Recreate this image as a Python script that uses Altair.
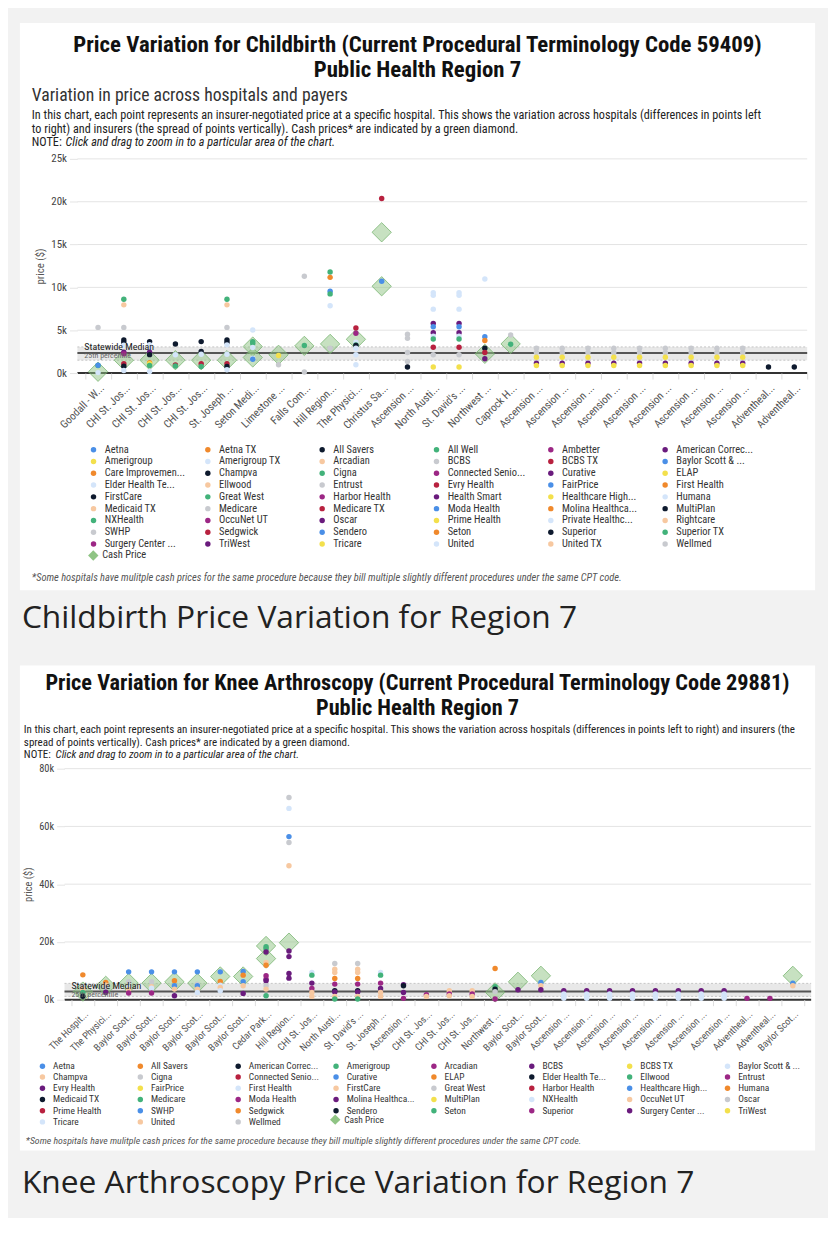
import json
import altair as alt
import pandas as pd

FONT = "'Roboto Condensed', 'Liberation Sans Narrow', 'DejaVu Sans Condensed', Roboto, sans-serif"
CAP_FONT = "'Open Sans', 'Noto Sans', sans-serif"

PALETTE = ["#4a8fe7", "#f0892c", "#0e1a2e", "#42b27a", "#9c2785", "#6a1b7d",
           "#f3e04c", "#d4e5fa", "#f7c8a0", "#c8cacf", "#b8213f"]
CASH_COLOR = "#8fc484"

# ---------------- Childbirth (CPT 59409) ----------------
CB_HOSPITALS = ["Goodall - W...", "CHI St. Jos...", "CHI St. Jos...", "CHI St. Jos...", "CHI St. Jos...",
                "St. Joseph ...", "Seton Medi...", "Limestone ...", "Falls Com...", "Hill Region...",
                "The Physici...", "Christus Sa...", "Ascension ...", "North Austi...", "St. David's ...",
                "Northwest ...", "Caprock H...", "Ascension ...", "Ascension ...", "Ascension ...",
                "Ascension ...", "Ascension ...", "Ascension ...", "Ascension ...", "Ascension ...",
                "Ascension ...", "Adventheal...", "Adventheal..."]
CB_PAYERS = ["Aetna", "Aetna TX", "All Savers", "All Well", "Ambetter", "American Correc...",
             "Amerigroup", "Amerigroup TX", "Arcadian", "BCBS", "BCBS TX", "Baylor Scott & ...",
             "Care Improvemen...", "Champva", "Cigna", "Connected Senio...", "Curative", "ELAP",
             "Elder Health Te...", "Ellwood", "Entrust", "Evry Health", "FairPrice", "First Health",
             "FirstCare", "Great West", "Harbor Health", "Health Smart", "Healthcare High...", "Humana",
             "Medicaid TX", "Medicare", "Medicare TX", "Moda Health", "Molina Healthca...", "MultiPlan",
             "NXHealth", "OccuNet UT", "Oscar", "Prime Health", "Private Healthc...", "Rightcare",
             "SWHP", "Sedgwick", "Sendero", "Seton", "Superior", "Superior TX",
             "Surgery Center ...", "TriWest", "Tricare", "United", "United TX", "Wellmed"]
CB_PT_HOSP = [0, 0, 0, 0,
              1, 1, 1, 1, 1, 1, 1, 1, 1, 1, 1,
              2, 2, 2, 2, 2, 2, 2, 2, 2,
              3, 3, 3, 3,
              4, 4, 4, 4, 4,
              5, 5, 5, 5, 5, 5, 5, 5, 5, 5,
              6, 6, 6, 6, 6, 6,
              7, 7,
              8, 8, 8,
              9, 9, 9, 9, 9, 9,
              10, 10, 10, 10, 10, 10, 10, 10,
              11, 11,
              12, 12, 12, 12, 12,
              13, 13, 13, 13, 13, 13, 13, 13, 13, 13, 13,
              14, 14, 14, 14, 14, 14, 14, 14, 14, 14, 14,
              15, 15, 15, 15, 15, 15,
              16, 16,
              17, 17, 17, 17, 17, 18, 18, 18, 18, 18, 19, 19, 19, 19, 19,
              20, 20, 20, 20, 20, 21, 21, 21, 21, 21, 22, 22, 22, 22, 22,
              23, 23, 23, 23, 23, 24, 24, 24, 24, 24, 25, 25, 25, 25, 25,
              26, 27]
CB_PT_PAYER = ["BCBS", "All Well", "Aetna", "Amerigroup TX",
               "Cigna", "Medicaid TX", "BCBS", "FirstCare", "All Savers", "United", "Curative", "Ambetter", "BCBS TX", "Champva", "Humana",
               "All Savers", "United", "Humana", "Curative", "Champva", "Aetna TX", "Amerigroup", "Cigna", "United",
               "FirstCare", "United", "BCBS TX", "All Well",
               "All Savers", "FirstCare", "United", "BCBS TX", "Cigna",
               "Cigna", "Medicaid TX", "BCBS", "FirstCare", "All Savers", "United", "Humana", "BCBS TX", "Champva", "Amerigroup TX",
               "Humana", "Cigna", "All Well", "United", "Amerigroup TX", "Aetna",
               "Amerigroup", "Medicare",
               "BCBS", "Cigna", "Medicare",
               "Cigna", "Aetna TX", "Aetna", "All Well", "Humana", "Medicare",
               "BCBS TX", "Ambetter", "United", "All Well", "All Savers", "Humana", "Amerigroup TX", "United",
               "BCBS TX", "Aetna",
               "BCBS", "Medicare", "BCBS", "Medicare", "All Savers",
               "Amerigroup TX", "Humana", "United", "Curative", "Aetna", "American Correc...", "Amerigroup TX", "Cigna", "BCBS TX", "BCBS", "Amerigroup",
               "Amerigroup TX", "Humana", "United", "Curative", "Aetna", "American Correc...", "Amerigroup TX", "Cigna", "BCBS TX", "BCBS", "Amerigroup",
               "United", "Aetna", "Aetna TX", "All Savers", "BCBS TX", "Curative",
               "BCBS", "Cigna",
               "BCBS", "Medicare", "Amerigroup", "American Correc...", "Tricare",
               "BCBS", "Medicare", "Amerigroup", "American Correc...", "Tricare",
               "BCBS", "Medicare", "Amerigroup", "American Correc...", "Tricare",
               "BCBS", "Medicare", "Amerigroup", "American Correc...", "Tricare",
               "BCBS", "Medicare", "Amerigroup", "American Correc...", "Tricare",
               "BCBS", "Medicare", "Amerigroup", "American Correc...", "Tricare",
               "BCBS", "Medicare", "Amerigroup", "American Correc...", "Tricare",
               "BCBS", "Medicare", "Amerigroup", "American Correc...", "Tricare",
               "BCBS", "Medicare", "Amerigroup", "American Correc...", "Tricare",
               "All Savers", "All Savers"]
CB_PT_PRICE = [5330, 880, 900, 50,
               8620, 7960, 5330, 3860, 3560, 3250, 2430, 2250, 1080, 800, 300,
               3670, 3300, 2900, 2430, 2150, 1200, 1100, 890, 190,
               3400, 2130, 930, 820,
               3670, 2510, 2200, 1080, 770,
               8620, 7960, 5330, 3860, 3560, 3290, 2200, 1080, 770, 390,
               5020, 3670, 3440, 2980, 1740, 1620,
               2050, 970,
               11290, 3210, 120,
               11790, 11170, 9550, 9240, 7850, 2900,
               5260, 4640, 3600, 3290, 3210, 2900, 2130, 970,
               20370, 10710,
               4520, 4060, 2400, 1350, 700,
               9390, 9080, 7460, 5800, 5410, 4710, 4300, 3980, 3010, 2130, 700,
               9390, 9080, 7460, 5800, 5410, 4710, 4300, 3980, 3010, 2130, 700,
               10980, 4250, 3790, 2900, 2400, 1660,
               4440, 3360,
               2900, 2400, 1850, 1160, 890,
               2900, 2400, 1850, 1160, 890,
               2900, 2400, 1850, 1160, 890,
               2900, 2400, 1850, 1160, 890,
               2900, 2400, 1850, 1160, 890,
               2900, 2400, 1850, 1160, 890,
               2900, 2400, 1850, 1160, 890,
               2900, 2400, 1850, 1160, 890,
               2900, 2400, 1850, 1160, 890,
               700, 700]
CB_CASH_HOSP = [0, 1, 2, 3, 4, 5, 6, 6, 7, 8, 9, 10, 11, 11, 15, 16]
CB_CASH_PRICE = [150, 1500, 1500, 1500, 1500, 1500, 3090, 1820, 2130, 3170, 3400, 3940, 16430, 10130, 2240, 3400]
CB_MEDIAN, CB_P25, CB_P75 = 2350, 1500, 3050
CB_YTICKS = [0, 5000, 10000, 15000, 20000, 25000]

# ---------------- Knee Arthroscopy (CPT 29881) ----------------
KA_HOSPITALS = ["The Hospit...", "The Physici...", "Baylor Scot...", "Baylor Scot...", "Baylor Scot...",
                "Baylor Scot...", "Baylor Scot...", "Baylor Scot...", "Cedar Park...", "Hill Region...",
                "CHI St. Jos...", "North Austi...", "St. David's ...", "St. Joseph ...", "Ascension ...",
                "CHI St. Jos...", "CHI St. Jos...", "CHI St. Jos...", "Northwest ...", "Baylor Scot...",
                "Baylor Scot...", "Ascension ...", "Ascension ...", "Ascension ...", "Ascension ...",
                "Ascension ...", "Ascension ...", "Ascension ...", "Ascension ...", "Adventheal...",
                "Adventheal...", "Baylor Scot..."]
KA_PAYERS = ["Aetna", "All Savers", "American Correc...", "Amerigroup", "Arcadian", "BCBS", "BCBS TX",
             "Baylor Scott & ...", "Champva", "Cigna", "Connected Senio...", "Curative", "ELAP",
             "Elder Health Te...", "Ellwood", "Entrust", "Evry Health", "FairPrice", "First Health",
             "FirstCare", "Great West", "Harbor Health", "Healthcare High...", "Humana", "Medicaid TX",
             "Medicare", "Moda Health", "Molina Healthca...", "MultiPlan", "NXHealth", "OccuNet UT",
             "Oscar", "Prime Health", "SWHP", "Sedgwick", "Sendero", "Seton", "Superior",
             "Surgery Center ...", "TriWest", "Tricare", "United", "Wellmed"]
KA_PT_HOSP = [0, 0, 0, 0, 0,
              1, 1, 1, 1,
              2, 2, 2, 2, 2,
              3, 3, 3, 3, 3,
              4, 4, 4, 4, 4,
              5, 5, 5, 5, 5,
              6, 6, 6, 6, 6,
              7, 7, 7, 7, 7,
              8, 8, 8, 8, 8, 8, 8, 8, 8, 8, 8,
              9, 9, 9, 9, 9, 9, 9, 9, 9,
              10, 10, 10, 10, 10, 10,
              11, 11, 11, 11, 11, 11, 11, 11, 11,
              12, 12, 12, 12, 12, 12, 12, 12, 12,
              13, 13, 13, 13, 13, 13,
              14, 14, 14, 14,
              15, 15,
              16, 16, 16,
              17, 17, 17,
              18, 18, 18, 18, 18,
              19,
              20, 20, 20,
              21, 21, 21, 21, 22, 22, 22, 22, 23, 23, 23, 23, 24, 24, 24, 24,
              25, 25, 25, 25, 26, 26, 26, 26, 27, 27, 27, 27, 28, 28, 28, 28,
              29, 30,
              31, 31]
KA_PT_PAYER = ["Humana", "Cigna", "United", "Medicare", "Medicaid TX",
               "All Savers", "FirstCare", "Wellmed", "BCBS",
               "Aetna", "Cigna", "Baylor Scott & ...", "United", "Arcadian",
               "Aetna", "Cigna", "FirstCare", "Tricare", "Arcadian",
               "Aetna", "ELAP", "SWHP", "United", "BCBS",
               "Aetna", "Cigna", "Curative", "United", "First Health",
               "Aetna", "ELAP", "NXHealth", "OccuNet UT", "Tricare",
               "Aetna", "All Savers", "Healthcare High...", "FirstCare", "BCBS",
               "Medicare", "Seton", "Evry Health", "OccuNet UT", "Humana", "Entrust", "Moda Health", "Molina Healthca...", "Great West", "Champva", "Amerigroup",
               "Oscar", "NXHealth", "Healthcare High...", "Great West", "United", "Surgery Center ...", "Molina Healthca...", "BCBS", "Evry Health",
               "First Health", "Ellwood", "Molina Healthca...", "Superior", "United", "FirstCare",
               "Oscar", "OccuNet UT", "FirstCare", "Humana", "Superior", "Sendero", "Evry Health", "Champva", "Seton",
               "Oscar", "OccuNet UT", "FirstCare", "Humana", "Superior", "Sendero", "Evry Health", "Champva", "Seton",
               "Tricare", "Seton", "Moda Health", "Molina Healthca...", "United", "Champva",
               "BCBS", "Sendero", "Evry Health", "Arcadian",
               "Superior", "Champva",
               "FirstCare", "Entrust", "Champva",
               "FirstCare", "Entrust", "Champva",
               "Humana", "Seton", "Sendero", "Wellmed", "Moda Health",
               "Surgery Center ...",
               "Aetna", "United", "Surgery Center ...",
               "BCBS", "Tricare", "NXHealth", "Baylor Scott & ...",
               "BCBS", "Tricare", "NXHealth", "Baylor Scott & ...",
               "BCBS", "Tricare", "NXHealth", "Baylor Scott & ...",
               "BCBS", "Tricare", "NXHealth", "Baylor Scott & ...",
               "BCBS", "Tricare", "NXHealth", "Baylor Scott & ...",
               "BCBS", "Tricare", "NXHealth", "Baylor Scott & ...",
               "BCBS", "Tricare", "NXHealth", "Baylor Scott & ...",
               "BCBS", "Tricare", "NXHealth", "Baylor Scott & ...",
               "Superior", "Superior",
               "Aetna", "United"]
KA_PT_PRICE = [8600, 4700, 3600, 2500, 1200,
               6000, 5000, 4200, 2600,
               9640, 6200, 4250, 3500, 2300,
               9640, 6200, 4480, 4000, 2300,
               9640, 6540, 4820, 3670, 1380,
               9640, 5400, 4820, 3670, 2530,
               9640, 6310, 5000, 4250, 3100,
               9760, 8500, 6200, 4820, 2180,
               18370, 17680, 16530, 12860, 11940, 8270, 7120, 6540, 4820, 3670, 1380,
               70030, 66240, 56480, 54420, 46380, 16880, 14920, 9070, 7460,
               9410, 8500, 5740, 3900, 2530, 1150,
               12510, 10560, 9400, 7350, 5400, 3100, 2700, 1150, 230,
               12510, 10560, 9400, 7350, 5400, 3100, 2700, 1150, 230,
               9410, 8500, 5740, 3900, 2530, 1150,
               5170, 4820, 2530, 460,
               1720, 1150,
               3100, 1950, 1380,
               3100, 1950, 1150,
               10790, 4480, 3670, 2800, 230,
               3440,
               5970, 4820, 3440,
               3100, 2000, 1200, 500,
               3100, 2000, 1200, 500,
               3100, 2000, 1200, 500,
               3100, 2000, 1200, 500,
               3100, 2000, 1200, 500,
               3100, 2000, 1200, 500,
               3100, 2000, 1200, 500,
               3100, 2000, 1200, 500,
               460, 460,
               5740, 4820]
KA_CASH_HOSP = [0, 1, 2, 3, 4, 5, 6, 7, 8, 8, 9, 18, 19, 20, 31]
KA_CASH_PRICE = [2800, 4800, 5740, 5740, 6200, 5740, 8040, 8040, 18600, 14240, 19750, 2530, 6200, 8270, 8270]
KA_MEDIAN, KA_P25, KA_P75 = 2800, 1150, 5650
KA_YTICKS = [0, 20000, 40000, 60000, 80000]

CB_TITLE_1 = "Price Variation for Childbirth (Current Procedural Terminology Code 59409)"
KA_TITLE_1 = "Price Variation for Knee Arthroscopy (Current Procedural Terminology Code 29881)"
TITLE_2 = "Public Health Region 7"
CB_SUB = "Variation in price across hospitals and payers"
CB_DESC_1 = "In this chart, each point represents an insurer-negotiated price at a specific hospital. This shows the variation across hospitals (differences in points left"
CB_DESC_2 = "to right) and insurers (the spread of points vertically). Cash prices* are indicated by a green diamond."
KA_DESC_1 = "In this chart, each point represents an insurer-negotiated price at a specific hospital. This shows the variation across hospitals (differences in points left to right) and insurers (the"
KA_DESC_2 = "spread of points vertically). Cash prices* are indicated by a green diamond."
NOTE_A = "NOTE:"
NOTE_B = "Click and drag to zoom in to a particular area of the chart."
FOOT = "*Some hospitals have mulitple cash prices for the same procedure because they bill multiple slightly different procedures under the same CPT code."
CB_CAPTION = "Childbirth Price Variation for Region 7"
KA_CAPTION = "Knee Arthroscopy Price Variation for Region 7"

one = pd.DataFrame({"k": [0]})


def txt(text, x, y, size, color="#222", weight="normal", style="normal", align="left", font=FONT):
    return alt.Chart(one).mark_text(font=font, fontSize=size, color=color, fontWeight=weight,
                                    fontStyle=style, align=align, baseline="alphabetic").encode(
        x=alt.value(x), y=alt.value(y), text=alt.value(text))


def panel(hosp, payers, ph, pp, pv, ch, cv, med, p25, p75, ymax, yticks, W, H, xrange, xstart,
          po, align, card, legend_xy, cash_xy, legend_cols, legend_font, col_pad, row_pad,
          xfont, yfont, texts):
    n = len(hosp)
    pts = pd.DataFrame({"h": ph, "payer": pp, "price": pv})
    cash = pd.DataFrame({"h": ch, "kind": ["Cash Price"] * len(ch), "price": cv})
    stats = pd.DataFrame({"median": [med], "p25": [p25], "p75": [p75], "zero": [0]})
    ticks = pd.DataFrame({"tick": yticks})
    rng = [PALETTE[i % len(PALETTE)] for i in range(len(payers))]

    xs = alt.Scale(type="band", domain=list(range(n)), paddingInner=0, paddingOuter=po,
                   align=align, range=xrange)
    xa = alt.Axis(title=None, labelExpr=json.dumps(hosp) + "[datum.value]", labelAngle=-45,
                  labelFont=FONT, labelFontSize=xfont, labelColor="#555", tickBand="extent",
                  tickColor="#dddddd", tickSize=6, domain=False, grid=False, zindex=1, labelPadding=3)
    ys = alt.Scale(domain=[0, ymax], nice=False)
    ya = alt.Axis(values=yticks, format="~s", grid=False, tickColor="#e4e4e4", offset=-xstart,
                  tickSize=8, domain=False, labelFont=FONT, labelFontSize=yfont, labelColor="#444",
                  titleFont=FONT, titleFontSize=yfont, titleColor="#555", titleFontWeight="normal",
                  zindex=1, labelPadding=3, titlePadding=5)

    def Y(f):
        return alt.Y(f, type="quantitative", scale=ys, axis=ya, title="price ($)")

    leg = alt.Legend(title=None, orient="none", legendX=legend_xy[0], legendY=legend_xy[1],
                     columns=legend_cols, direction="horizontal", symbolType="circle", symbolSize=30,
                     symbolLimit=100, labelFont=FONT, labelFontSize=legend_font, labelColor="#333",
                     columnPadding=col_pad, rowPadding=row_pad, gridAlign="all", labelLimit=300,
                     padding=0, labelOffset=6, symbolOpacity=1)
    color = alt.Color("payer:N", scale=alt.Scale(domain=payers, range=rng), legend=leg)
    cash_leg = alt.Legend(title=None, orient="none", legendX=cash_xy[0], legendY=cash_xy[1],
                          symbolSize=110, symbolFillColor="#a3cf98", symbolStrokeColor="#5c9c55",
                          symbolStrokeWidth=1, symbolOpacity=1, labelFont=FONT,
                          labelFontSize=legend_font, labelColor="#333", labelOffset=3, padding=0)
    shape = alt.Shape("kind:N", scale=alt.Scale(domain=["Cash Price"], range=["diamond"]), legend=cash_leg)
    x0, x1 = alt.value(xstart), alt.value(W)

    layers = [
        alt.Chart(one).mark_rect(color="white").encode(
            x=alt.value(card[0]), x2=alt.value(card[1]), y=alt.value(card[2]), y2=alt.value(card[3])),
        alt.Chart(ticks).mark_rule(color="#e4e4e4", strokeWidth=1).encode(y=Y("tick"), x=x0, x2=x1),
        alt.Chart(stats).mark_rect(color="#e8e8e8").encode(y=Y("p25"), y2="p75:Q", x=x0, x2=x1),
        alt.Chart(stats).mark_rule(color="#c4c4c4", strokeDash=[2, 2], strokeWidth=1).encode(
            y=Y("p25"), x=x0, x2=x1),
        alt.Chart(stats).mark_rule(color="#c4c4c4", strokeDash=[2, 2], strokeWidth=1).encode(
            y=Y("p75"), x=x0, x2=x1),
        alt.Chart(stats).mark_rule(color="#555555", strokeWidth=2).encode(y=Y("median"), x=x0, x2=x1),
        alt.Chart(stats).mark_rule(color="#333333", strokeWidth=2).encode(y=Y("zero"), x=x0, x2=x1),
        alt.Chart(cash).mark_point(filled=True, size=380, fillOpacity=0.5,
                                   stroke="#7ab572", strokeWidth=1, strokeOpacity=0.8).encode(
            x=alt.X("h:O", scale=xs, axis=xa), y=Y("price"), shape=shape, color=alt.value(CASH_COLOR)),
        alt.Chart(pts).mark_circle(size=30, opacity=1).encode(
            x=alt.X("h:O", scale=xs, axis=xa), y=Y("price"), color=color),
        alt.Chart(stats).mark_text(font=FONT, fontSize=10, color="#222", align="left",
                                   baseline="bottom", dy=-1).encode(
            x=alt.value(xstart + 7), y=Y("median"), text=alt.value("Statewide Median")),
        alt.Chart(stats).mark_text(font=FONT, fontSize=8, color="#666", align="left",
                                   baseline="middle", dy=3).encode(
            x=alt.value(xstart + 7), y=Y("median"), text=alt.value("25th percentile")),
    ] + texts
    return alt.layer(*layers).properties(width=W, height=H)


# Panel 1 geometry: plot origin at page (78,159)
W1, H1 = 736, 216
p1_texts = [
    txt(CB_TITLE_1, 343, -108, 23, color="#111", weight="bold", align="center"),
    txt(TITLE_2, 343, -83, 23, color="#111", weight="bold", align="center"),
    txt(CB_SUB, -46, -58, 17.8, color="#333"),
    txt(CB_DESC_1, -46, -40.5, 12.3, color="#222"),
    txt(CB_DESC_2, -46, -26.5, 12.3, color="#222"),
    txt(NOTE_A, -46, -12.5, 12.3, color="#222"),
    txt(NOTE_B, -12, -12.5, 12.3, color="#222", style="italic"),
    txt(FOOT, -46, 425.5, 10.5, color="#555", style="italic"),
    txt(CB_CAPTION, -56, 473, 32, color="#222", font=CAP_FONT),
]
p1 = panel(CB_HOSPITALS, CB_PAYERS, CB_PT_HOSP, CB_PT_PAYER, CB_PT_PRICE, CB_CASH_HOSP, CB_CASH_PRICE,
           CB_MEDIAN, CB_P25, CB_P75, 25000, CB_YTICKS, W1, H1, [0, W1], 0, 0.15, 1.0,
           (-58, 744, -137, 435), (11, 288), (10, 394), 6, 10.5, 17.3, 0.9, 11, 11, p1_texts)

# Panel 2 geometry: group origin at page (78,769); data area starts 13px further left (page 65)
W2, H2 = 740, 233
p2_texts = [
    txt(KA_TITLE_1, 343, -79, 22.5, color="#111", weight="bold", align="center"),
    txt(TITLE_2, 343, -54, 22.5, color="#111", weight="bold", align="center"),
    txt(KA_DESC_1, -54, -36, 11.1, color="#222"),
    txt(KA_DESC_2, -54, -23, 11.1, color="#222"),
    txt(NOTE_A, -54, -11, 11.1, color="#222"),
    txt(NOTE_B, -22, -11, 11.1, color="#222", style="italic"),
    txt(FOOT, -52, 379, 9.9, color="#555", style="italic"),
    txt(KA_CAPTION, -56, 428, 32, color="#222", font=CAP_FONT),
]
p2 = panel(KA_HOSPITALS, KA_PAYERS, KA_PT_HOSP, KA_PT_PAYER, KA_PT_PRICE, KA_CASH_HOSP, KA_CASH_PRICE,
           KA_MEDIAN, KA_P25, KA_P75, 80000, KA_YTICKS, W2, H2, [-13, W2], -13, 0.3, 0.5,
           (-58, 744, -104, 385), (-40, 295), (254, 348), 8, 9.5, 11.7, 0.3, 10, 10.5, p2_texts)

chart = alt.vconcat(p1, p2, spacing=32).resolve_scale(
    color="independent", shape="independent", x="independent", y="independent"
).resolve_legend(color="independent", shape="independent").properties(
    padding={"left": 12, "top": 10, "right": 4, "bottom": 14},
    background="#f2f2f2",
).configure_view(strokeWidth=0)

chart.save("out.html", embed_options={"renderer": "svg", "actions": False})
